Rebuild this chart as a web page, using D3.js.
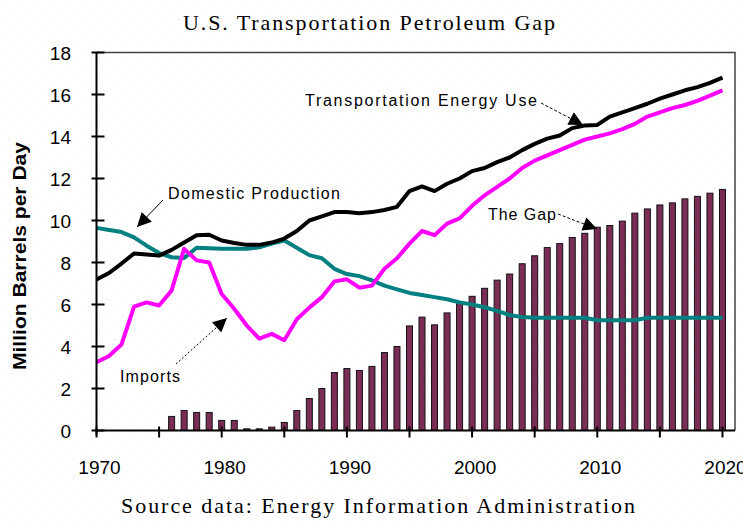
<!DOCTYPE html>
<html>
<head>
<meta charset="utf-8">
<script src="https://cdn.jsdelivr.net/npm/d3@7"></script>
<style>
  body { margin: 0; background: #fff; }
  svg { display: block; }
</style>
</head>
<body>
<div id="chart"></div>
<script>
// years for the lines
var years = d3.range(1970, 2021);

// Transportation Energy Use (million barrels per day)
var transport = [7.19, 7.5, 7.95, 8.43, 8.38, 8.33, 8.6, 8.95, 9.3, 9.32, 9.05, 8.93, 8.84, 8.84, 8.95, 9.14,
  9.5, 10.0, 10.2, 10.4, 10.4, 10.35, 10.4, 10.5, 10.65, 11.4, 11.62, 11.4, 11.75, 12.0, 12.35, 12.5,
  12.78, 13.0, 13.35, 13.65, 13.9, 14.05, 14.4, 14.52, 14.55, 14.95, 15.15, 15.35, 15.56, 15.8, 16.0,
  16.2, 16.35, 16.55, 16.8];

// Imports
var imports = [3.25, 3.55, 4.1, 5.9, 6.1, 5.95, 6.67, 8.65, 8.1, 8.0, 6.5, 5.8, 5.0, 4.37, 4.6, 4.3,
  5.3, 5.85, 6.35, 7.1, 7.2, 6.8, 6.9, 7.7, 8.2, 8.9, 9.5, 9.3, 9.85, 10.1, 10.7, 11.2, 11.6, 12.0,
  12.5, 12.85, 13.1, 13.35, 13.6, 13.85, 14.0, 14.15, 14.35, 14.6, 14.95, 15.15, 15.35, 15.5, 15.7,
  15.95, 16.2];

// Domestic Production
var domestic = [9.65, 9.55, 9.45, 9.2, 8.8, 8.45, 8.25, 8.22, 8.7, 8.68, 8.65, 8.65, 8.65, 8.72, 8.9,
  9.05, 8.7, 8.35, 8.2, 7.7, 7.45, 7.35, 7.15, 6.9, 6.72, 6.55, 6.45, 6.35, 6.25, 6.1, 6.0, 5.87,
  5.7, 5.5, 5.4, 5.37, 5.37, 5.37, 5.37, 5.37, 5.25, 5.25, 5.25, 5.25, 5.37, 5.37, 5.37, 5.37, 5.37,
  5.37, 5.37];

// The Gap (bars)
var gapYears = d3.range(1976, 2021);
var gap = [0.67, 0.95, 0.86, 0.86, 0.48, 0.48, 0.08, 0.08, 0.16, 0.38, 0.95, 1.52, 2.0, 2.76, 2.95,
  2.86, 3.05, 3.71, 4.0, 4.98, 5.4, 5.03, 5.6, 6.13, 6.39, 6.77, 7.16, 7.45, 7.94, 8.32, 8.71, 8.9,
  9.19, 9.39, 9.68, 9.76, 9.97, 10.35, 10.55, 10.74, 10.84, 11.03, 11.15, 11.3, 11.48];

var yTicks = [0, 2, 4, 6, 8, 10, 12, 14, 16, 18];
var xLabels = [1970, 1980, 1990, 2000, 2010, 2020];
var xMinor = d3.range(1970, 2021, 5);

var width = 743, height = 525;
var pLeft = 96.5, pRight = 735, pTop = 52.5, pBottom = 430.5;

var svg = d3.select("#chart").append("svg")
  .attr("width", width)
  .attr("height", height);

// faint dotted background like the original
var defs = svg.append("defs");
var pat = defs.append("pattern")
  .attr("id", "dots").attr("width", 16).attr("height", 16)
  .attr("patternUnits", "userSpaceOnUse");
pat.append("rect").attr("x", 2).attr("y", 3).attr("width", 1).attr("height", 1).attr("fill", "#f3d6ef");
pat.append("rect").attr("x", 10).attr("y", 11).attr("width", 1).attr("height", 1).attr("fill", "#f3d6ef");
svg.append("rect").attr("width", width).attr("height", height).attr("fill", "url(#dots)");

defs.append("marker")
  .attr("id", "head").attr("viewBox", "0 0 10 10")
  .attr("refX", 10).attr("refY", 5)
  .attr("markerUnits", "userSpaceOnUse")
  .attr("markerWidth", 16).attr("markerHeight", 14)
  .attr("orient", "auto")
  .append("path").attr("d", "M0,0 L10,5 L0,10 z").attr("fill", "#000");

var x = d3.scaleLinear().domain([1970, 2021]).range([pLeft, pRight]);
var y = d3.scaleLinear().domain([0, 18]).range([pBottom, pTop]);

// frame
svg.append("path")
  .attr("d", "M" + pLeft + "," + pTop + "H" + pRight + "V" + pBottom)
  .attr("fill", "none").attr("stroke", "#444").attr("stroke-width", 1.5);

// bars
svg.selectAll("rect.gap")
  .data(gapYears)
  .enter().append("rect")
  .attr("class", "gap")
  .attr("x", function (d) { return x(d) - 3; })
  .attr("width", 6)
  .attr("y", function (d, i) { return y(gap[i]); })
  .attr("height", function (d, i) { return y(0) - y(gap[i]); })
  .attr("fill", "#7b2d56")
  .attr("stroke", "#111")
  .attr("stroke-width", 1);

// lines
var line = function (vals) {
  return d3.line()
    .x(function (d, i) { return x(years[i]); })
    .y(function (d) { return y(d); })(vals);
};
[[domestic, "#008080"], [imports, "#ff00ff"], [transport, "#000"]].forEach(function (s) {
  svg.append("path")
    .attr("d", line(s[0]))
    .attr("fill", "none")
    .attr("stroke", s[1])
    .attr("stroke-width", 4)
    .attr("stroke-linejoin", "round");
});

// y axis
var yAxis = svg.append("g");
yAxis.append("line")
  .attr("x1", pLeft).attr("x2", pLeft).attr("y1", pTop).attr("y2", pBottom + 4)
  .attr("stroke", "#000").attr("stroke-width", 2);
yAxis.selectAll("line.tick").data(yTicks).enter().append("line")
  .attr("x1", pLeft - 5).attr("x2", pLeft + 8)
  .attr("y1", function (d) { return y(d); }).attr("y2", function (d) { return y(d); })
  .attr("stroke", "#000").attr("stroke-width", 2);
yAxis.selectAll("text").data(yTicks).enter().append("text")
  .attr("x", 71)
  .attr("y", function (d) { return y(d) + 7; })
  .attr("text-anchor", "end")
  .style("font", "19px 'Liberation Sans', Arial, sans-serif")
  .text(function (d) { return d; });

// x axis
var xAxis = svg.append("g");
xAxis.append("line")
  .attr("x1", pLeft).attr("x2", pRight).attr("y1", pBottom).attr("y2", pBottom)
  .attr("stroke", "#000").attr("stroke-width", 2);
xAxis.selectAll("line.tick").data(xMinor).enter().append("line")
  .attr("x1", function (d) { return x(d); }).attr("x2", function (d) { return x(d); })
  .attr("y1", pBottom - 4).attr("y2", pBottom + 7)
  .attr("stroke", "#000").attr("stroke-width", 2);
xAxis.selectAll("text").data(xLabels).enter().append("text")
  .attr("x", function (d) { return x(d) + 3; })
  .attr("y", 474)
  .attr("text-anchor", "middle")
  .style("font", "19px 'Liberation Sans', Arial, sans-serif")
  .text(function (d) { return d; });

// y axis title
svg.append("text")
  .attr("transform", "translate(26,256) rotate(-90)")
  .attr("text-anchor", "middle")
  .attr("textLength", 228).attr("lengthAdjust", "spacingAndGlyphs")
  .style("font", "bold 18px 'Liberation Sans', Arial, sans-serif")
  .text("Million Barrels per Day");

// title and source
svg.append("text")
  .attr("x", 369).attr("y", 30)
  .attr("text-anchor", "middle")
  .attr("textLength", 372).attr("lengthAdjust", "spacing")
  .style("font", "22px 'Liberation Serif', 'Times New Roman', serif")
  .text("U.S. Transportation Petroleum Gap");
svg.append("text")
  .attr("x", 378).attr("y", 513)
  .attr("text-anchor", "middle")
  .attr("textLength", 514).attr("lengthAdjust", "spacing")
  .style("font", "22px 'Liberation Serif', 'Times New Roman', serif")
  .text("Source data: Energy Information Administration");

// annotations
var notes = [
  { t: "Transportation Energy Use", x: 305, y: 106, w: 232 },
  { t: "Domestic Production", x: 168, y: 199, w: 172 },
  { t: "The Gap", x: 488, y: 220, w: 68 },
  { t: "Imports", x: 120, y: 382, w: 60 }
];
svg.selectAll("text.note").data(notes).enter().append("text")
  .attr("class", "note")
  .attr("x", function (d) { return d.x; })
  .attr("y", function (d) { return d.y; })
  .attr("textLength", function (d) { return d.w; })
  .attr("lengthAdjust", "spacing")
  .style("font", "16px 'Liberation Sans', Arial, sans-serif")
  .text(function (d) { return d.t; });

var arrows = [
  { x1: 541, y1: 103, x2: 583, y2: 125, dash: "3,2" },
  { x1: 163, y1: 200, x2: 137, y2: 227, dash: null },
  { x1: 558, y1: 214, x2: 597, y2: 229, dash: "3,2" },
  { x1: 176, y1: 364, x2: 227, y2: 318, dash: "2,2" }
];
svg.selectAll("line.arrow").data(arrows).enter().append("line")
  .attr("class", "arrow")
  .attr("x1", function (d) { return d.x1; })
  .attr("y1", function (d) { return d.y1; })
  .attr("x2", function (d) { return d.x2; })
  .attr("y2", function (d) { return d.y2; })
  .attr("stroke", "#000")
  .attr("stroke-width", 1)
  .attr("stroke-dasharray", function (d) { return d.dash; })
  .attr("marker-end", "url(#head)");
</script>
</body>
</html>
